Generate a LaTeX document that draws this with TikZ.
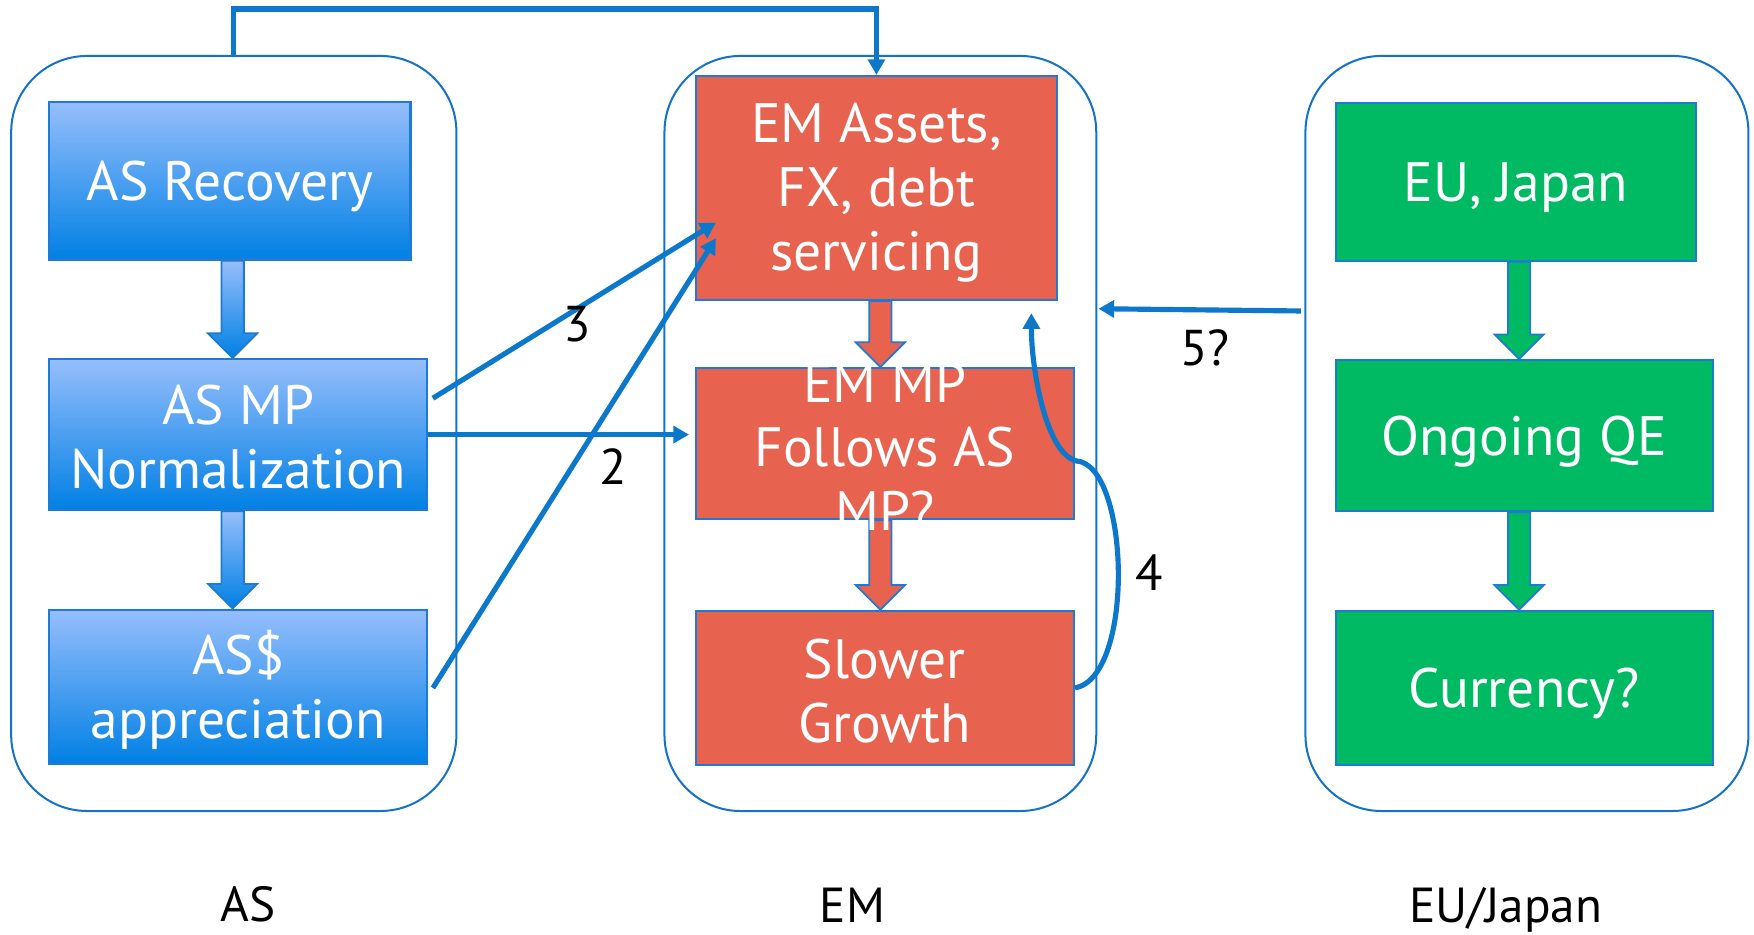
\documentclass[tikz,border=0pt]{standalone}
\usepackage{fontspec}
\setmainfont{PT Sans}
\usetikzlibrary{arrows.meta,fit,calc}

\definecolor{linkblue}{RGB}{12,120,204}
\definecolor{edgeblue}{RGB}{30,122,210}
\definecolor{frameblue}{RGB}{20,115,200}
\definecolor{skytop}{RGB}{150,190,252}
\definecolor{skybot}{RGB}{0,128,228}
\definecolor{emred}{RGB}{232,98,80}
\definecolor{eugreen}{RGB}{0,186,99}

\tikzset{
  frame/.style={draw=frameblue, line width=0.9pt, rounded corners=34pt, inner sep=0pt},
  panel/.style={draw=edgeblue, line width=1pt, inner sep=0pt},
  bluepanel/.style={panel, top color=skytop, bottom color=skybot},
  redpanel/.style={panel, fill=emred},
  greenpanel/.style={panel, fill=eugreen},
  paneltext/.style={text=white, align=center, inner sep=0pt,
    font=\fontsize{24.8}{28.6}\selectfont},
  numtext/.style={text=black, inner sep=0pt, font=\fontsize{22.5}{26}\selectfont},
  regiontext/.style={text=black, inner sep=0pt, anchor=base,
    font=\fontsize{22}{26}\selectfont},
  conn/.style={draw=linkblue, line width=2.3pt,
    -{Triangle[length=7pt,width=7.5pt]}},
  bluearrow/.style={draw=edgeblue, line width=0.8pt, top color=skytop, bottom color=skybot},
  redarrow/.style={draw=edgeblue, line width=0.8pt, fill=emred},
  greenarrow/.style={draw=edgeblue, line width=0.8pt, fill=eugreen},
}

% block arrow: x position, upper node, lower node, style
\newcommand{\blockarrow}[4]{%
  \coordinate (bt) at (#1,0 |- #2.south);
  \coordinate (bb) at (#1,0 |- #3.north);
  \path[#4] ($(bt)+(-10,0)$) -- ($(bt)+(10,0)$) -- ($(bb)+(10,-22)$)
    -- ($(bb)+(22,-22)$) -- (bb) -- ($(bb)+(-22,-22)$)
    -- ($(bb)+(-10,-22)$) -- cycle;
}

\begin{document}
\begin{tikzpicture}[x=0.5pt, y=-0.5pt]
\useasboundingbox (0,0) rectangle (1568,835);

% region frames
\node[frame, fit={(10,50) (408,725)}] (asc) {};
\node[frame, fit={(594,50) (980,725)}] (emc) {};
\node[frame, fit={(1167,50) (1563,725)}] (euc) {};

% AS column
\node[bluepanel, fit={(44,91) (367,232)}] (asrec) {};
\node[bluepanel, fit={(44,321) (382,456)}] (asmp) {};
\node[bluepanel, fit={(44,545) (382,683)}] (asd) {};

% EM column
\node[redpanel, fit={(622,68) (945,268)}] (emas) {};
\node[redpanel, fit={(622,329) (960,464)}] (emmp) {};
\node[redpanel, fit={(622,546) (960,684)}] (emsg) {};

% EU/Japan column
\node[greenpanel, fit={(1194,92) (1516,233)}] (euj) {};
\node[greenpanel, fit={(1194,322) (1531,457)}] (qe) {};
\node[greenpanel, fit={(1194,546) (1531,684)}] (cur) {};

% block arrows inside the columns
\blockarrow{208}{asrec}{asmp}{bluearrow}
\blockarrow{208}{asmp}{asd}{bluearrow}
\blockarrow{787}{emas}{emmp}{redarrow}
\blockarrow{787}{emmp}{emsg}{redarrow}
\blockarrow{1358}{euj}{qe}{greenarrow}
\blockarrow{1358}{qe}{cur}{greenarrow}

% panel texts
\node[paneltext] (asrect) at ($(asrec)+(0,5)$) {AS Recovery};
\node[paneltext] (asmpt) at ($(asmp)+(0,2)$) {AS MP\\Normalization};
\node[paneltext] (asdt) at ($(asd)+(0,3)$) {AS\$\\appreciation};
\node[paneltext] (emast) at ($(emas)+(0,4)$) {EM Assets,\\FX, debt\\servicing};
\node[paneltext] (emmpt) at ($(emmp)+(0,3)$) {EM MP\\Follows AS\\MP?};
\node[paneltext] (emsgt) at ($(emsg)+(0,3)$) {Slower\\Growth};
\node[paneltext] (eujt) at ($(euj)+(0,5)$) {EU, Japan};
\node[paneltext] (qet) at ($(qe)+(0,5)$) {Ongoing QE};
\node[paneltext] (curt) at ($(cur)+(0,5)$) {Currency?};

% connectors
\coordinate (topturn) at (emas.north |- 0,8);
\draw[conn] (asc.north) |- (topturn) -- (emas.north);

\coordinate (s3) at (387,356);
\coordinate (e3) at (640,199);
\draw[conn] (s3) -- (e3);

\coordinate (s1) at (387,615);
\coordinate (e1) at (640,213);
\draw[conn] (s1) -- (e1);

\draw[conn] (asmp.east) -- ($(asmp.east -| emmp.west)+(-5,0)$);

\coordinate (loopturn) at (962,412);
\coordinate (loopend) at (922,280);
\draw[conn] (emsg.east) .. controls (1015,605) and (1010,415) .. (loopturn)
  .. controls (935,405) and (922,330) .. (loopend);

\coordinate (s5) at (1163,278);
\coordinate (e5) at (982,276);
\draw[conn] (s5) -- (e5);

% connector labels
\node[numtext] (l3) at (516,290) {3};
\node[numtext] (l2) at (548,417) {2};
\node[numtext] (l4) at (1027,512) {4};
\node[numtext] (l5) at (1077,311) {5?};

% region names
\node[regiontext] (nas) at (222,824) {AS};
\node[regiontext] (nem) at (762,825) {EM};
\node[regiontext] (neu) at (1346,825) {EU/Japan};
\end{tikzpicture}
\end{document}
